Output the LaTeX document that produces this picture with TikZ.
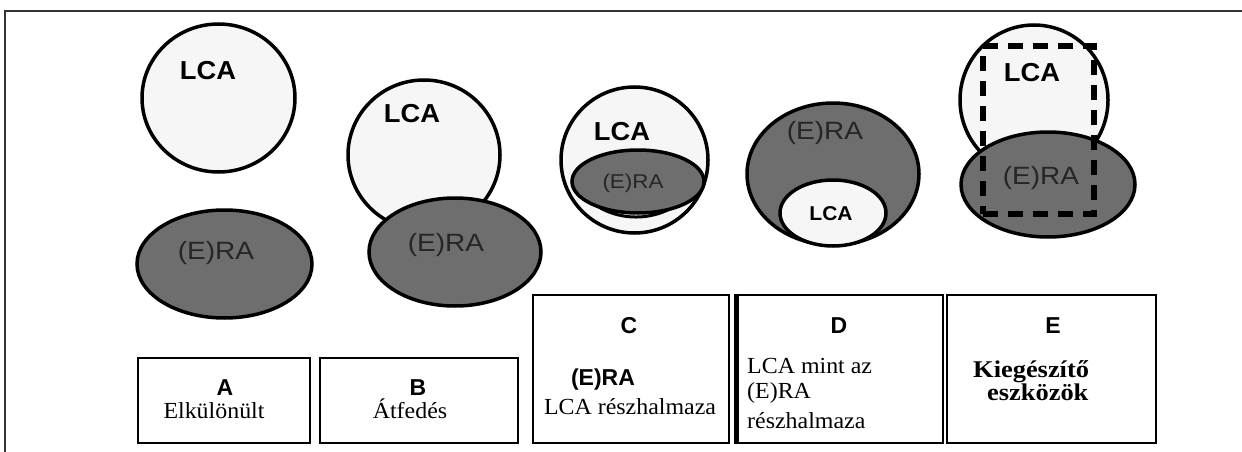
\documentclass[tikz,border=0pt]{standalone}
\usepackage{fontspec}
\setmainfont{Liberation Serif}
\setsansfont{Liberation Sans}
\newfontfamily\wideserif[FakeStretch=1.04]{Liberation Serif}
\newfontfamily\wideserifb[FakeStretch=1.1]{Liberation Serif Bold}
\newfontfamily\widesans[FakeStretch=1.12]{Liberation Sans}
\newfontfamily\widesansb[FakeStretch=1.05]{Liberation Sans Bold}
\usetikzlibrary{shapes.geometric}
\definecolor{lcafill}{HTML}{F6F6F6}
\definecolor{erafill}{HTML}{6E6E6E}
\definecolor{framecol}{HTML}{333333}
\begin{document}
\begin{tikzpicture}[x=1pt,y=-1pt,
  setshape/.style={ellipse, draw=black, line width=3.5pt, inner sep=0pt},
  lca/.style={setshape, fill=lcafill},
  era/.style={setshape, fill=erafill},
  lcat/.style={font=\widesansb\fontsize{26}{26}\selectfont, inner sep=0pt},
  lcas/.style={font=\widesansb\fontsize{20}{20}\selectfont, inner sep=0pt},
  erat/.style={font=\widesans\fontsize{25}{25}\selectfont, text=black!85, inner sep=0pt},
  eras/.style={font=\widesans\fontsize{20}{20}\selectfont, text=black!85, inner sep=0pt},
  boxshape/.style={draw=black, line width=2.8pt, inner sep=0pt},
  lettert/.style={font=\sffamily\bfseries\fontsize{23}{23}\selectfont, inner sep=0pt, anchor=base},
  sert/.style={font=\wideserif\fontsize{23}{23}\selectfont, inner sep=0pt, anchor=base},
  serb/.style={font=\wideserifb\fontsize{24}{24}\selectfont, inner sep=0pt, anchor=base west}]
\useasboundingbox (0,0) rectangle (1242,452);
\fill[white] (0,0) rectangle (1242,452);
% frame
\draw[line width=1.5pt, framecol] (5,452) -- (5,11) -- (1242,11);

% A
\node[lca, minimum width=153pt, minimum height=148pt] (lcaA) at (218.5,98) {};
\node[lcat] (lcaAt) at (208,71) {LCA};
\node[era, minimum width=175pt, minimum height=108pt] (eraA) at (224.5,264) {};
\node[erat] (eraAt) at (216,253) {(E)RA};

% B
\node[lca, minimum width=152pt, minimum height=150pt] (lcaB) at (424,155) {};
\node[lcat] (lcaBt) at (412,114) {LCA};
\node[era, minimum width=172pt, minimum height=108pt] (eraB) at (455,252) {};
\node[erat] (eraBt) at (446,245) {(E)RA};

% C
\node[lca, minimum width=147pt, minimum height=146pt] (lcaC) at (634.5,160) {};
\draw[line width=3pt] ([shift={(200:66pt and 57pt)}]636,160) arc[start angle=200, end angle=340, x radius=66pt, y radius=57pt];
\node[lcat] (lcaCt) at (622,132) {LCA};
\node[era, minimum width=132pt, minimum height=63pt] (eraC) at (638,181.5) {};
\node[eras] (eraCt) at (633,183) {(E)RA};

% D
\node[era, minimum width=172pt, minimum height=142pt] (eraD) at (833,174) {};
\node[erat] (eraDt) at (825,133) {(E)RA};
\node[lca, minimum width=106pt, minimum height=66pt] (lcaD) at (833,213) {};
\node[lcas] (lcaDt) at (831,214) {LCA};

% E
\node[lca, minimum width=148pt, minimum height=150pt] (lcaE) at (1034,100) {};
\node[lcat] (lcaEt) at (1032,73) {LCA};
\node[era, minimum width=174pt, minimum height=105pt] (eraE) at (1048,184.5) {};
\node[erat] (eraEt) at (1041,178) {(E)RA};
\node[draw=black, line width=6pt, dash pattern=on 15pt off 10pt, minimum width=111pt, minimum height=168pt, inner sep=0pt] (toolE) at (1038.5,130) {};

% boxes
\node[boxshape, minimum width=172pt, minimum height=85pt] (boxA) at (224,400.5) {};
\node[boxshape, minimum width=198pt, minimum height=85pt] (boxB) at (419,400.5) {};
\node[boxshape, minimum width=196pt, minimum height=148pt] (boxC) at (631,369) {};
\node[boxshape, minimum width=206pt, minimum height=148pt] (boxD) at (840,369) {};
\draw[line width=5.5pt] ([xshift=1pt]boxD.north west) -- ([xshift=1pt]boxD.south west);
\node[boxshape, minimum width=209pt, minimum height=148pt] (boxE) at (1051.5,369) {};

% box texts
\node[lettert] (tA) at (225,395) {A};
\node[sert] (tA2) at (214,418) {Elkülönült};
\node[lettert] (tB) at (418,395) {B};
\node[sert] (tB2) at (410,418) {Átfedés};
\node[lettert] (tC) at (629,333) {C};
\node[lettert] (tC2) at (603,385) {(E)RA};
\node[sert] (tC3) at (630,414) {LCA részhalmaza};
\node[lettert] (tD) at (839,333) {D};
\node[sert, anchor=base west] (tD2) at (747,373) {LCA mint az};
\node[sert, anchor=base west] (tD3) at (747,398) {(E)RA};
\node[sert, anchor=base west] (tD4) at (747,428) {részhalmaza};
\node[lettert] (tE) at (1053,333) {E};
\node[serb] (tE2) at (973,377) {Kiegészítő};
\node[serb] (tE3) at (987,400) {eszközök};
\end{tikzpicture}
\end{document}
